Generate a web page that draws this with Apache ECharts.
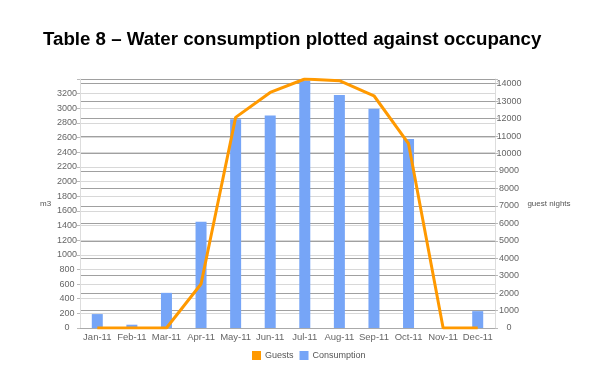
<!DOCTYPE html>
<html>
<head>
<meta charset="utf-8">
<script src="https://cdn.jsdelivr.net/npm/echarts@6/dist/echarts.min.js"></script>
<style>
html,body{margin:0;padding:0;background:#fff;}
#chart{width:602px;height:376px;}
</style>
</head>
<body>
<div id="chart"></div>
<script>
var categories = ['Jan-11','Feb-11','Mar-11','Apr-11','May-11','Jun-11','Jul-11','Aug-11','Sep-11','Oct-11','Nov-11','Dec-11'];
var consumption = [190, 45, 480, 1450, 2850, 2900, 3380, 3180, 2995, 2580, 0, 230];
var guests = [0, 0, 0, 2520, 12070, 13500, 14270, 14170, 13310, 10560, 0, 0];
var leftMax = 3400;
var rightMax = 14270;

var chart = echarts.init(document.getElementById('chart'));
var font = '"Liberation Sans", Arial, sans-serif';
chart.setOption({
  animation: false,
  backgroundColor: '#ffffff',
  title: {
    text: 'Table 8 – Water consumption plotted against occupancy',
    left: 38, top: 25,
    textStyle: {fontFamily: font, fontSize: 18.7, fontWeight: 'bold', color: '#000'}
  },
  legend: {
    left: 247, top: 346,
    itemWidth: 9, itemHeight: 9, itemGap: 6,
    icon: 'rect',
    textStyle: {fontFamily: font, fontSize: 9, color: '#555', padding: [0,0,0,-1]},
    data: [{name: 'Guests', icon: 'rect'}, {name: 'Consumption', icon: 'rect'}]
  },
  grid: {left: 80, right: 107, top: 79, bottom: 48, containLabel: false},
  xAxis: {
    type: 'category',
    data: categories,
    axisLine: {lineStyle: {color: '#aaa'}},
    axisTick: {show: false},
    axisLabel: {fontFamily: font, fontSize: 9.5, color: '#666', margin: 4, interval: 0}
  },
  yAxis: [{
    type: 'value', min: 0, max: leftMax, interval: 200,
    name: 'm3', nameLocation: 'middle', nameRotate: 0, nameGap: 27,
    nameTextStyle: {fontFamily: font, fontSize: 8, color: '#555'},
    axisLine: {show: true, lineStyle: {color: '#ddd'}},
    axisTick: {show: true, length: 3, lineStyle: {color: '#bbb'}},
    axisLabel: {fontFamily: font, fontSize: 9, color: '#666', align: 'center', margin: 13,
      formatter: function(v){ return v >= leftMax ? '' : String(v); }},
    splitLine: {show: true, lineStyle: {color: '#d8d8d8', width: 1}}
  }, {
    type: 'value', min: 0, max: rightMax, interval: 1000,
    name: 'guest nights', nameLocation: 'middle', nameRotate: 0, nameGap: 28,
    nameTextStyle: {fontFamily: font, fontSize: 8, color: '#555', align: 'left'},
    axisLine: {show: true, lineStyle: {color: '#ddd'}},
    axisTick: {show: true, length: 3, lineStyle: {color: '#bbb'}},
    axisLabel: {fontFamily: font, fontSize: 9, color: '#666', align: 'center', margin: 14,
      formatter: function(v){ return (v % 1000 === 0) ? String(v) : ''; }},
    splitLine: {show: true, lineStyle: {color: '#a0a0a0', width: 1}}
  }],
  series: [{
    name: 'Guests', type: 'line', yAxisIndex: 1, data: guests,
    showSymbol: false, symbol: 'none', z: 3,
    itemStyle: {color: '#ff9900'},
    lineStyle: {color: '#ff9900', width: 3}
  }, {
    name: 'Consumption', type: 'bar', yAxisIndex: 0, data: consumption,
    barWidth: 11, z: 2,
    itemStyle: {color: '#76a5f7'}
  }]
});
</script>
</body>
</html>
